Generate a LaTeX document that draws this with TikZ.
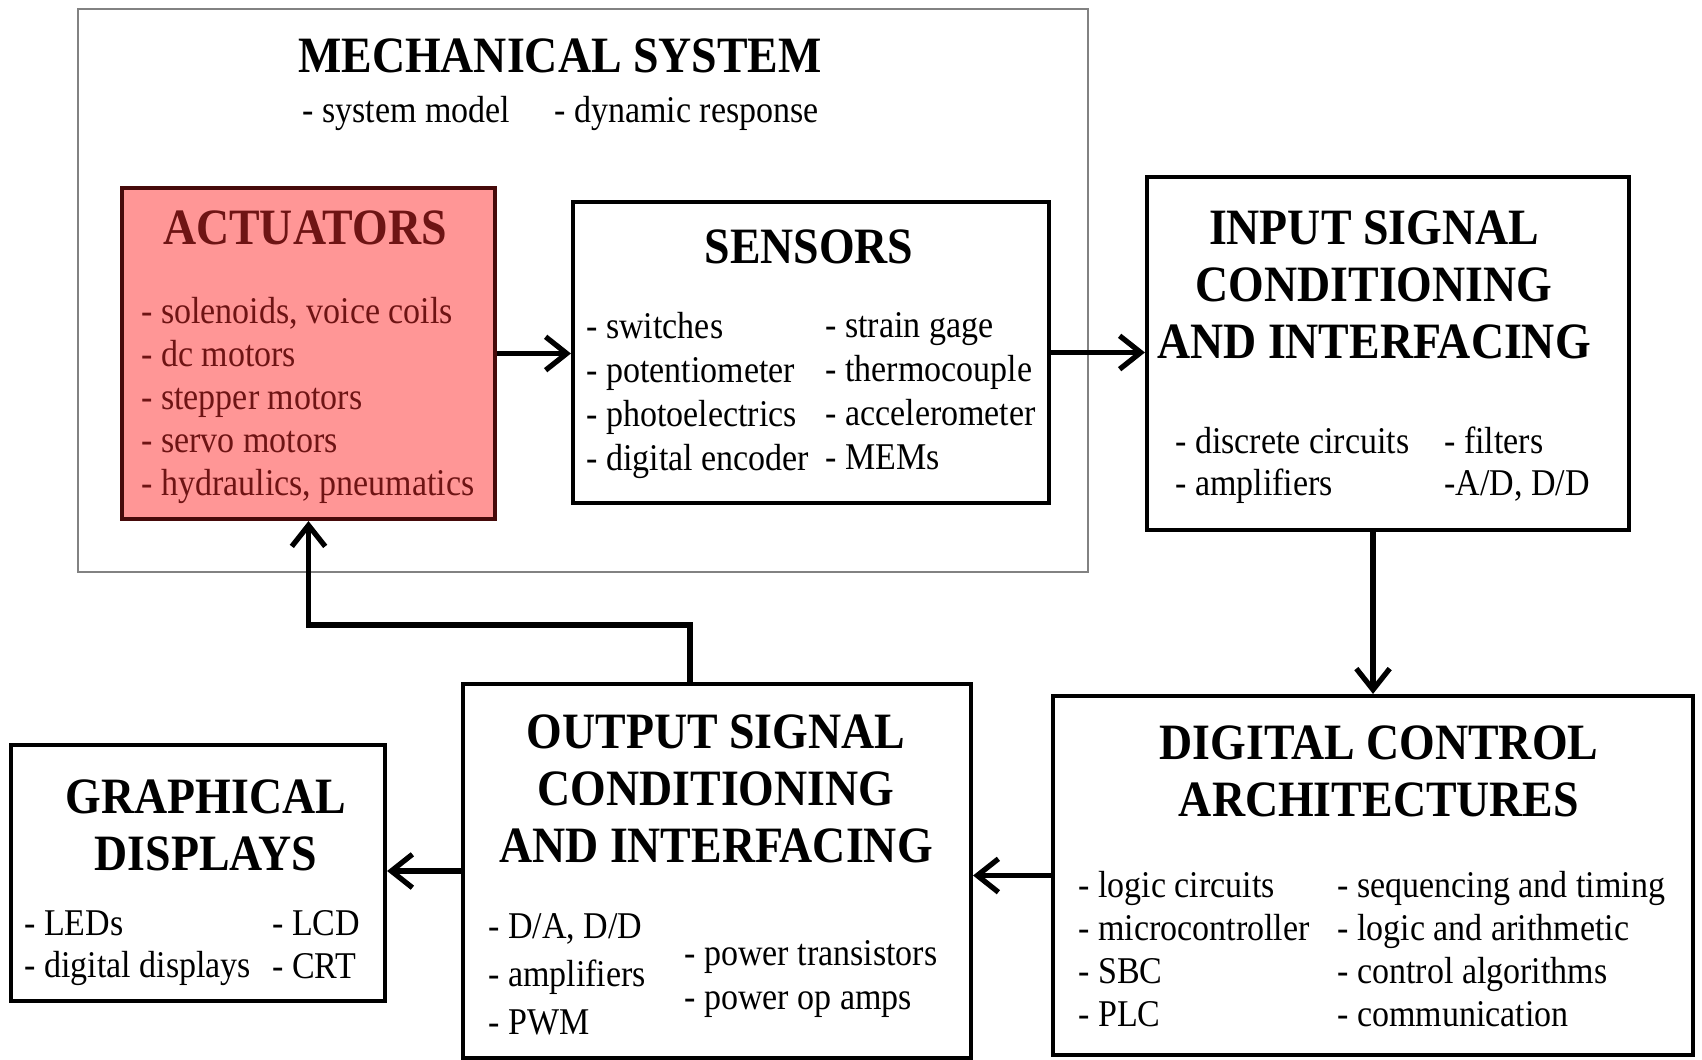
\documentclass[tikz,border=0pt]{standalone}
\usepackage{fontspec}
\setmainfont[FakeStretch=0.9]{Liberation Serif}
\usetikzlibrary{arrows.meta}
\definecolor{actpink}{RGB}{255,150,150}
\definecolor{actdark}{RGB}{70,10,10}
\definecolor{acttext}{RGB}{110,20,20}
\definecolor{mechgray}{RGB}{130,130,130}

\tikzset{
  box/.style={draw, line width=2.4pt, inner sep=0pt},
  title/.style={align=center, font=\fontsize{29}{32.4}\selectfont\bfseries},
  items/.style={anchor=north west, align=left, inner sep=0pt, font=\fontsize{21.5}{#1}\selectfont},
  items/.default=24.4pt,
  arr/.style={line width=3pt, -{Straight Barb[length=12pt,width=19pt]}}
}

\begin{document}
\begin{tikzpicture}[x=0.02cm, y=-0.02cm]
    \useasboundingbox (0,0) rectangle (1702,1060);

    % mechanical system frame
    \node[draw=mechgray, line width=1.1pt, minimum width=20.2cm, minimum height=11.26cm] (mech) at (583,290.5) {};
    \node[title] (mechtitle) at (560,56) {MECHANICAL SYSTEM};
    \node[anchor=west, inner sep=0pt, font=\fontsize{21.5}{24}\selectfont] (mechsubA) at (302,113) {- system model};
    \node[anchor=west, inner sep=0pt, font=\fontsize{21.5}{24}\selectfont] (mechsubB) at (554,113) {- dynamic response};

    % blocks
    \node[box, draw=actdark, fill=actpink, minimum width=7.46cm, minimum height=6.62cm] (act) at (308.5,353.5) {};
    \node[box, minimum width=9.52cm, minimum height=6.02cm] (sens) at (811,352.5) {};
    \node[box, minimum width=9.64cm, minimum height=7.06cm] (inp) at (1388,353.5) {};
    \node[box, minimum width=12.8cm, minimum height=7.18cm] (dig) at (1373,875.5) {};
    \node[box, minimum width=10.16cm, minimum height=7.48cm] (out) at (717,871) {};
    \node[box, minimum width=7.48cm, minimum height=5.12cm] (gra) at (198,873) {};

    % titles
    \node[title, text=acttext] (acttitle) at (305,228) {ACTUATORS};
    \node[title] (senstitle) at (809,247) {SENSORS};
    \node[title] (inptitle) at (1374,285) {INPUT SIGNAL\\CONDITIONING\\AND INTERFACING};
    \node[title] (digtitle) at (1379,771) {DIGITAL CONTROL\\ARCHITECTURES};
    \node[title] (outtitle) at (716,789) {OUTPUT SIGNAL\\CONDITIONING\\AND INTERFACING};
    \node[title] (gratitle) at (206,825) {GRAPHICAL\\DISPLAYS};

    % lists
    \node[items, text=acttext] (actlist) at (141,297) {- solenoids, voice coils\\- dc motors\\- stepper motors\\- servo motors\\- hydraulics, pneumatics};
    \node[items=25pt] (senslistA) at (586,312) {- switches\\- potentiometer\\- photoelectrics\\- digital encoder};
    \node[items=25pt] (senslistB) at (825,312) {- strain gage\\- thermocouple\\- accelerometer\\- MEMs};
    \node[items=23.8pt] (inplistA) at (1175,427) {- discrete circuits\\- amplifiers};
    \node[items=23.8pt] (inplistB) at (1444,427) {- filters\\-A/D, D/D};
    \node[items] (diglistA) at (1078,871) {- logic circuits\\- microcontroller\\- SBC\\- PLC};
    \node[items] (diglistB) at (1337,871) {- sequencing and timing\\- logic and arithmetic\\- control algorithms\\- communication};
    \node[items=27.3pt] (outlistA) at (488,913) {- D/A, D/D\\- amplifiers\\- PWM};
    \node[items=25pt] (outlistB) at (684,940) {- power transistors\\- power op amps};
    \node[items] (gralistA) at (24,910) {- LEDs\\- digital displays};
    \node[items] (gralistB) at (272,910) {- LCD\\- CRT};

    % signal flow
    \draw[arr] (act.east) -- (act.east -| sens.west);
    \draw[arr] (sens.east) -- (sens.east -| inp.west);
    \draw[arr] (dig.north |- inp.south) -- (dig.north);
    \draw[arr] (dig.west) -- (dig.west -| out.east);
    \draw[arr] (out.west) -- (out.west -| gra.east);
    \coordinate (fb) at (690,625);
    \draw[arr] (out.north -| fb) -- (fb) -| (act.south);
\end{tikzpicture}
\end{document}
